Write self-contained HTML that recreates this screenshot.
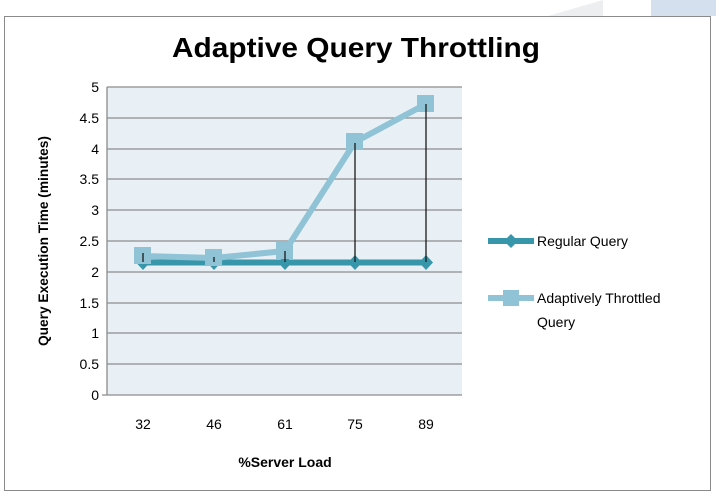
<!DOCTYPE html>
<html><head><meta charset="utf-8"><style>
html,body{margin:0;padding:0;background:#fff;}
svg{display:block;font-family:"Liberation Sans",sans-serif;}
</style></head><body>
<svg width="716" height="501" viewBox="0 0 716 501" xmlns="http://www.w3.org/2000/svg">
<rect width="716" height="501" fill="#fff"/>
<polygon points="548,16 603,0 603,16" fill="#eceef0"/>
<rect x="651" y="0" width="65" height="16" fill="#d4e0ee"/>
<rect x="4.5" y="16.5" width="706" height="474" fill="#fff" stroke="#8a8a8a" stroke-width="1"/>
<text x="356" y="57" font-size="28" font-weight="bold" text-anchor="middle" textLength="368" lengthAdjust="spacingAndGlyphs" fill="#000">Adaptive Query Throttling</text>
<rect x="107" y="87" width="355" height="308" fill="#e8f0f6"/>
<g stroke="#8c8c8c" stroke-width="1.3">
<line x1="107" x2="462" y1="87" y2="87"/><line x1="107" x2="462" y1="118" y2="118"/>
<line x1="107" x2="462" y1="149" y2="149"/><line x1="107" x2="462" y1="179" y2="179"/>
<line x1="107" x2="462" y1="210" y2="210"/><line x1="107" x2="462" y1="241" y2="241"/>
<line x1="107" x2="462" y1="272" y2="272"/><line x1="107" x2="462" y1="303" y2="303"/>
<line x1="107" x2="462" y1="333" y2="333"/><line x1="107" x2="462" y1="364" y2="364"/>
<line x1="102" x2="462" y1="395" y2="395"/>
<line x1="107" x2="107" y1="87" y2="395"/>
</g>
<g font-size="14" text-anchor="end" fill="#000">
<text x="99" y="92">5</text><text x="99" y="123">4.5</text><text x="99" y="154">4</text>
<text x="99" y="184">3.5</text><text x="99" y="215">3</text><text x="99" y="246">2.5</text>
<text x="99" y="277">2</text><text x="99" y="308">1.5</text><text x="99" y="338">1</text>
<text x="99" y="369">0.5</text><text x="99" y="400">0</text>
</g>
<g font-size="14" text-anchor="middle" fill="#000">
<text x="143" y="429">32</text><text x="214" y="429">46</text><text x="285" y="429">61</text>
<text x="355" y="429">75</text><text x="426" y="429">89</text>
</g>
<text x="285" y="467" font-size="14" font-weight="bold" text-anchor="middle" fill="#000">%Server Load</text>
<text transform="translate(48,241) rotate(-90)" font-size="14" font-weight="bold" text-anchor="middle" textLength="210" lengthAdjust="spacingAndGlyphs" fill="#000">Query Execution Time (minutes)</text>
<polyline points="143,262.5 214,262.5 285,262.5 355,262.5 426,262.5" fill="none" stroke="#3896ab" stroke-width="6"/>
<g fill="#3896ab">
<polygon points="143,255 150,262.5 143,270 136,262.5"/><polygon points="214,255 221,262.5 214,270 207,262.5"/>
<polygon points="285,255 292,262.5 285,270 278,262.5"/><polygon points="355,255 362,262.5 355,270 348,262.5"/>
<polygon points="426,255 433,262.5 426,270 419,262.5"/>
</g>
<polyline points="143,256 214,258 285,251 355,142 426,104" fill="none" stroke="#8fc3d5" stroke-width="6"/>
<g fill="#8fc3d5">
<rect x="134" y="247" width="17" height="17"/><rect x="205" y="249" width="17" height="17"/>
<rect x="276" y="242" width="17" height="17"/><rect x="346" y="133" width="17" height="17"/>
<rect x="417" y="95" width="17" height="17"/>
</g>
<g stroke="#1a1a1a" stroke-width="1.3">
<line x1="143" x2="143" y1="253" y2="262"/><line x1="214" x2="214" y1="257" y2="262"/>
<line x1="285" x2="285" y1="251" y2="262"/><line x1="355" x2="355" y1="143" y2="262"/>
<line x1="426" x2="426" y1="104" y2="262"/>
</g>
<line x1="488" x2="534" y1="241" y2="241" stroke="#3896ab" stroke-width="6"/>
<polygon points="511,234 518,241 511,248 504,241" fill="#3896ab"/>
<text x="537" y="246" font-size="14" fill="#000">Regular Query</text>
<line x1="488" x2="534" y1="298" y2="298" stroke="#8fc3d5" stroke-width="6"/>
<rect x="503" y="290" width="16" height="16" fill="#8fc3d5"/>
<text x="537" y="303" font-size="14" fill="#000">Adaptively Throttled</text>
<text x="537" y="327" font-size="14" fill="#000">Query</text>
</svg>
</body></html>
